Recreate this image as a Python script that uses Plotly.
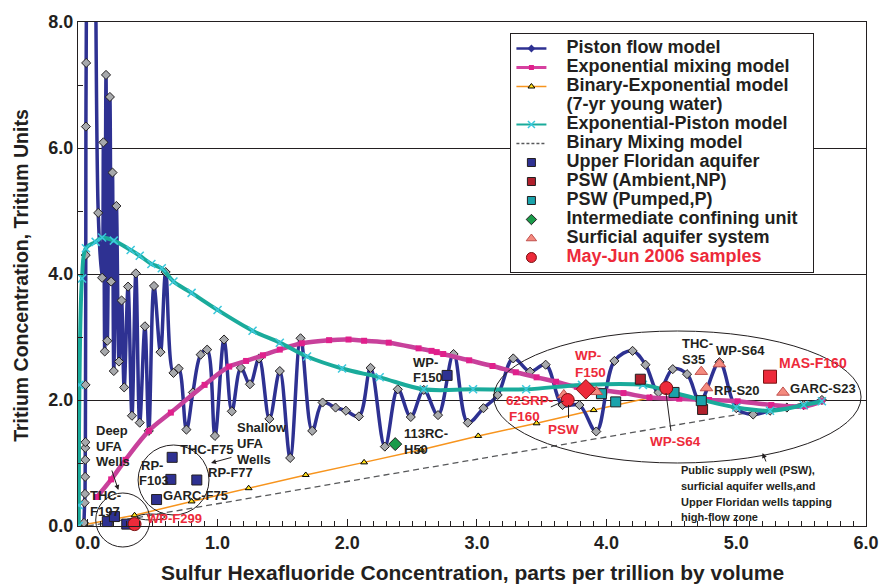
import plotly.graph_objects as go

# ---------------- data ----------------
# Piston flow model
PF_X = [-0.030, -0.025, -0.022, -0.021, -0.020, -0.020, -0.019, -0.018, -0.016, -0.015, -0.013,
        0.030, 0.080, 0.110, 0.120, 0.130, 0.140, 0.150, 0.170, 0.180, 0.190, 0.200, 0.220,
        0.240, 0.260, 0.280, 0.310, 0.340, 0.370, 0.400, 0.440, 0.470, 0.510, 0.560, 0.600,
        0.660, 0.700, 0.760, 0.810, 0.870, 0.920, 0.980, 1.050, 1.110, 1.180, 1.250, 1.320,
        1.400, 1.480, 1.560, 1.640, 1.730, 1.810, 1.910, 1.990, 2.090, 2.180, 2.290, 2.390,
        2.490, 2.590, 2.700, 2.820, 2.930, 3.050, 3.160, 3.280, 3.410, 3.530, 3.660, 3.790,
        3.920, 4.060, 4.200, 4.300, 4.400, 4.510, 4.620, 4.720, 4.870, 5.000, 5.130, 5.260,
        5.390, 5.520, 5.660]
PF_Y = [0.05, 0.37, 0.51, 0.78, 1.05, 1.24, 1.33, 2.24, 4.30, 6.34, 7.35,
        25.0, 4.97, 3.94, 6.09, 2.77, 7.16, 2.94, 6.81, 3.88, 5.61, 2.46, 5.08,
        2.61, 3.58, 2.20, 3.80, 1.75, 4.01, 1.64, 3.17, 1.51, 3.81, 2.76, 4.03,
        2.43, 2.50, 1.53, 2.12, 2.72, 2.80, 1.43, 2.96, 1.82, 2.51, 2.25, 2.66,
        1.70, 2.46, 1.08, 2.98, 1.51, 1.96, 1.88, 1.83, 1.74, 2.51, 1.26, 2.17,
        1.73, 2.16, 1.76, 2.73, 1.64, 1.87, 2.08, 2.66, 2.45, 2.56, 1.92, 1.92,
        1.50, 2.62, 2.78, 2.56, 2.12, 2.49, 2.41, 1.98, 2.60, 1.87, 1.77, 1.83,
        1.88, 1.92, 2.00]

# Exponential mixing model
EM_X = [0.07, 0.18, 0.29, 0.47, 0.64, 0.90, 1.09, 1.22, 1.35, 1.48, 1.65, 1.86, 2.01, 2.13,
        2.32, 2.55, 2.65, 2.69, 2.74, 2.94, 3.12, 3.30, 3.46, 3.61, 3.77, 4.13, 4.33, 4.56,
        4.79, 5.01, 5.27, 5.53, 5.66]
EM_Y = [0.46, 0.74, 1.05, 1.51, 1.80, 2.24, 2.53, 2.62, 2.71, 2.80, 2.90, 2.95, 2.96, 2.94,
        2.91, 2.82, 2.78, 2.76, 2.73, 2.63, 2.54, 2.44, 2.36, 2.29, 2.21, 2.11, 2.04, 2.02,
        2.00, 1.98, 1.92, 1.90, 1.98]

# Binary-Exponential model (7-yr young water)
BE_X = [-0.03, 0.36, 0.80, 1.24, 1.68, 2.13, 2.57, 3.01, 3.46, 3.90, 4.34]
BE_Y = [0.02, 0.17, 0.39, 0.60, 0.81, 1.01, 1.21, 1.43, 1.63, 1.84, 2.04]

# Exponential-Piston model
EP_X = [-0.070, -0.070, -0.065, -0.045, -0.015, 0.06, 0.11, 0.20, 0.33, 0.40, 0.49, 0.57,
        0.66, 0.80, 1.00, 1.27, 1.48, 1.69, 1.96, 2.25, 2.59, 2.97, 3.38, 3.81, 4.28, 4.51,
        4.74, 5.00, 5.26, 5.52, 5.66]
EP_Y = [0.00, 0.33, 2.24, 3.93, 4.41, 4.51, 4.58, 4.53, 4.38, 4.29, 4.16, 4.09,
        3.88, 3.70, 3.43, 3.10, 2.91, 2.69, 2.50, 2.36, 2.17, 2.17, 2.17, 2.24, 2.24, 2.12,
        2.00, 1.88, 1.83, 1.92, 1.98]

# Binary mixing model
BM_X = [0.0, 5.66]
BM_Y = [0.0, 2.0]

# Sample groups
UFA_X = [0.15, 0.205, 0.30, 0.53, 0.64, 0.65, 0.84, 2.77]
UFA_Y = [0.07, 0.15, 0.03, 0.42, 0.74, 1.09, 0.73, 2.39]
NP_X = [4.26, 4.74]
NP_Y = [2.33, 1.85]
P_X = [3.96, 4.07, 4.52, 4.73]
P_Y = [2.10, 1.97, 2.12, 1.99]
ICU_X = [2.37]
ICU_Y = [1.30]
SAS_X = [3.67, 3.92, 4.73, 4.77, 4.87, 5.36]
SAS_Y = [2.08, 2.13, 2.45, 2.19, 2.57, 2.12]
MJ_X = [0.36, 3.70, 4.46]
MJ_Y = [0.03, 2.00, 2.19]
MJ_SQ_X = [5.26]      # MAS-F160 (2006 sample, square)
MJ_SQ_Y = [2.37]
MJ_DI_X = [3.84]      # WP-F150 (2006 sample, diamond)
MJ_DI_Y = [2.17]

X_TICKS = [0, 1, 2, 3, 4, 5, 6]
Y_TICKS = [0, 2, 4, 6, 8]

LEGEND_NAMES = ["Piston flow model", "Exponential mixing model",
                "Binary-Exponential model", "(7-yr young water)", "Exponential-Piston model",
                "Binary Mixing model", "Upper Floridan aquifer", "PSW (Ambient,NP)",
                "PSW (Pumped,P)", "Intermediate confining unit", "Surficial aquifer system",
                "May-Jun 2006 samples"]

# ---------------- style ----------------
FONT = "Arial, 'Liberation Sans', Helvetica, sans-serif"
BLACK = "#231f20"
RED = "#ed2a3a"
NAVY = "#2e3192"
MAGENTA = "#c8419b"
TEAL = "#1aab9b"
ORANGE = "#f7941d"

W, H = 891, 584
ML, MR, MT, MB = 78, 13, 22, 58
PW, PH = W - ML - MR, H - MT - MB


def pxx(px):
    return (px - ML) / PW


def pxy(py):
    return 1 - (py - MT) / PH


fig = go.Figure()

fig.add_trace(go.Scatter(x=BM_X, y=BM_Y, mode="lines", showlegend=False, hoverinfo="skip",
                         line=dict(color="#58595b", width=1.3, dash="6px,4px")))
fig.add_trace(go.Scatter(x=BE_X, y=BE_Y, mode="lines+markers", showlegend=False, hoverinfo="skip",
                         line=dict(color=ORANGE, width=1.5),
                         marker=dict(symbol="triangle-up", size=6, color="#ffe01a",
                                     line=dict(color="black", width=1))))
fig.add_trace(go.Scatter(x=PF_X, y=PF_Y, mode="lines+markers", showlegend=False, hoverinfo="skip",
                         line=dict(color=NAVY, width=3.5, shape="spline", smoothing=1.0),
                         marker=dict(symbol="diamond", size=7, color="#a7a9ac",
                                     line=dict(color="#231f20", width=1))))
fig.add_trace(go.Scatter(x=EM_X, y=EM_Y, mode="lines+markers", showlegend=False, hoverinfo="skip",
                         line=dict(color=MAGENTA, width=4.5, shape="spline", smoothing=1.0),
                         marker=dict(symbol="square", size=6, color="#e0208c")))
fig.add_trace(go.Scatter(x=EP_X, y=EP_Y, mode="lines+markers", showlegend=False, hoverinfo="skip",
                         line=dict(color=TEAL, width=4, shape="spline", smoothing=1.0),
                         marker=dict(symbol="x-thin", size=8, color="#3cc8dc",
                                     line=dict(color="#3cc8dc", width=1.5))))


def pts(x, y, sym, size, color, lc="#231f20"):
    fig.add_trace(go.Scatter(x=x, y=y, mode="markers", showlegend=False, hoverinfo="skip",
                             cliponaxis=False,
                             marker=dict(symbol=sym, size=size, color=color,
                                         line=dict(color=lc, width=1))))


pts(UFA_X, UFA_Y, "square", 10, NAVY)
pts(NP_X, NP_Y, "square", 10, "#b0202c")
pts(P_X, P_Y, "square", 10, "#1aa3ab")
pts(ICU_X, ICU_Y, "diamond", 10, "#1a9b4a")
pts(SAS_X, SAS_Y, "triangle-up", 11, "#f48a7f", "#c0504d")
pts(MJ_SQ_X, MJ_SQ_Y, "square", 13, RED, "#7a1010")
pts(MJ_DI_X, MJ_DI_Y, "diamond", 15, RED, "#7a1010")
pts(MJ_X, MJ_Y, "circle", 13, RED, "#7a1010")

# ---- legend-only entries ----
leg_styles = [
    dict(mode="lines+markers", line=dict(color=NAVY, width=2.5),
         marker=dict(symbol="diamond", size=6, color=NAVY)),
    dict(mode="lines+markers", line=dict(color="#d6409f", width=3),
         marker=dict(symbol="square", size=5, color="#e0208c")),
    dict(mode="lines+markers", line=dict(color=ORANGE, width=1.3),
         marker=dict(symbol="triangle-up", size=6, color="#ffe01a", line=dict(color="black", width=1))),
    dict(mode="lines", line=dict(color="rgba(0,0,0,0)", width=0)),
    dict(mode="lines+markers", line=dict(color=TEAL, width=2),
         marker=dict(symbol="x-thin", size=7, line=dict(color="#3cc8dc", width=1.5))),
    dict(mode="lines", line=dict(color="#58595b", width=1.5, dash="3px,2px")),
    dict(mode="markers", marker=dict(symbol="square", size=8, color=NAVY, line=dict(color=BLACK, width=1))),
    dict(mode="markers", marker=dict(symbol="square", size=8, color="#b0202c", line=dict(color=BLACK, width=1))),
    dict(mode="markers", marker=dict(symbol="square", size=8, color="#1aa3ab", line=dict(color=BLACK, width=1))),
    dict(mode="markers", marker=dict(symbol="diamond", size=8, color="#1a9b4a", line=dict(color=BLACK, width=1))),
    dict(mode="markers", marker=dict(symbol="triangle-up", size=9, color="#f48a7f", line=dict(color="#c0504d", width=1))),
    dict(mode="markers", marker=dict(symbol="circle", size=10, color=RED, line=dict(color="#7a1010", width=1))),
]
for i, (nm, st) in enumerate(zip(LEGEND_NAMES, leg_styles)):
    color = RED if i == len(LEGEND_NAMES) - 1 else BLACK
    label = f'<span style="font-size:18px;color:{color}">\u00a0\u00a0\u00a0{nm}\u00a0\u00a0</span>'
    fig.add_trace(go.Scatter(x=[None], y=[None], name=label, showlegend=True, hoverinfo="skip", **st))

# ---- annotations ----
# (text, x_px, y_px, color, size, xanchor)
LABELS = [
    ("Deep", 94, 430, BLACK, 13, "left"), ("UFA", 94, 446, BLACK, 13, "left"),
    ("Wells", 94, 461, BLACK, 13, "left"),
    ("THC-", 88, 495, BLACK, 13, "left"), ("F197", 88, 511, BLACK, 13, "left"),
    ("RP-", 140, 465, BLACK, 13, "left"), ("F103", 138, 480, BLACK, 13, "left"),
    ("THC-F75", 208, 449, BLACK, 13, "center"), ("RP-F77", 233, 472, BLACK, 13, "center"),
    ("GARC-F75", 197, 495, BLACK, 13, "center"),
    ("Shallow", 237, 427, BLACK, 13, "left"), ("UFA", 237, 443, BLACK, 13, "left"),
    ("Wells", 237, 459, BLACK, 13, "left"),
    ("WP-F299", 146, 518, RED, 13, "left"),
    ("WP-", 416, 362, BLACK, 13, "left"), ("F150", 416, 377, BLACK, 13, "left"),
    ("113RC-", 407, 433, BLACK, 13, "left"), ("H50", 407, 449, BLACK, 13, "left"),
    ("62SRP-", 536, 400, RED, 13.5, "center"), ("F160", 514, 416, RED, 13.5, "left"),
    ("PSW", 571, 429, RED, 13.5, "center"),
    ("WP-", 581, 355, RED, 13.5, "left"), ("F150", 581, 372, RED, 13.5, "left"),
    ("WP-S64", 685, 441, RED, 13.5, "center"),
    ("THC-", 689, 343, BLACK, 13, "left"), ("S35", 689, 359, BLACK, 13, "left"),
    ("WP-S64", 751, 350, BLACK, 13, "center"), ("RP-S20", 747, 390, BLACK, 13, "center"),
    ("MAS-F160", 824, 363, RED, 14, "center"), ("GARC-S23", 834, 388, BLACK, 13, "center"),
    ("Public supply well (PSW),", 688, 470, BLACK, 11, "left"),
    ("surficial aquifer wells,and", 688, 486, BLACK, 11, "left"),
    ("Upper Floridan wells tapping", 688, 502, BLACK, 11, "left"),
    ("high-flow zone", 688, 517, BLACK, 11, "left"),
]
annotations = []
for t, x, y, c, s, xa in LABELS:
    annotations.append(dict(text=t, x=pxx(x), y=pxy(y), xref="paper", yref="paper",
                            xanchor=xa, yanchor="middle", showarrow=False,
                            font=dict(family=FONT, size=s, color=c, weight="bold")))

# arrows: (head_x, head_y, tail_x, tail_y)
ARROWS = [(119, 490, 112, 469), (213, 463, 235, 457), (773, 453, 777, 463)]
for hx, hy, tx, ty in ARROWS:
    annotations.append(dict(text="", x=pxx(hx), y=pxy(hy), xref="paper", yref="paper",
                            ax=tx - hx, ay=ty - hy, showarrow=True, arrowhead=2,
                            arrowsize=1, arrowwidth=1, arrowcolor=BLACK))

# axis titles
annotations.append(dict(text="Sulfur Hexafluoride Concentration, parts per trillion by volume",
                        x=pxx(478), y=pxy(572), xref="paper", yref="paper", showarrow=False,
                        xanchor="center", yanchor="middle",
                        font=dict(family=FONT, size=21, color=BLACK, weight="bold")))
annotations.append(dict(text="Tritium Concentration, Tritium Units",
                        x=pxx(20), y=pxy(275), xref="paper", yref="paper", showarrow=False,
                        textangle=-90, xanchor="center", yanchor="middle",
                        font=dict(family=FONT, size=19.5, color=BLACK, weight="bold")))

# ---- shapes: circles / ellipses and leader lines ----
shapes = []
for x0, y0, x1, y1 in [(96, 493, 151, 547), (139, 445, 211, 515), (500, 331, 873, 463),
                       (138, 514, 166, 520)]:
    shapes.append(dict(type="circle", xref="paper", yref="paper", x0=pxx(x0), x1=pxx(x1),
                       y0=pxy(y1), y1=pxy(y0), line=dict(color=BLACK, width=1)))
for x0, y0, x1, y1 in [(558, 407, 571, 401), (576, 418, 576, 405), (680, 431, 675, 393)]:
    shapes.append(dict(type="line", xref="paper", yref="paper", x0=pxx(x0), x1=pxx(x1),
                       y0=pxy(y0), y1=pxy(y1), line=dict(color=BLACK, width=1)))

fig.update_layout(
    width=W, height=H, margin=dict(l=ML, r=MR, t=MT, b=MB),
    paper_bgcolor="white", plot_bgcolor="white",
    font=dict(family=FONT, color=BLACK),
    annotations=annotations, shapes=shapes,
    legend=dict(x=pxx(517), y=pxy(33), xanchor="left", yanchor="top",
                bgcolor="white", bordercolor=BLACK, borderwidth=1,
                font=dict(family=FONT, size=12, color=BLACK, weight="bold"),
                tracegroupgap=0, itemwidth=30),
    xaxis=dict(range=[-0.076, 6.0], tickvals=X_TICKS, tickformat=".1f",
               ticks="inside", ticklen=7, tickcolor=BLACK, showgrid=False, zeroline=False,
               showline=True, linecolor=BLACK, linewidth=1, mirror=True,
               tickfont=dict(family=FONT, size=18, color=BLACK, weight="bold"),
               minor=dict(dtick=0.1, ticks="inside", ticklen=5, tickcolor=BLACK)),
    yaxis=dict(range=[0, 8], tickvals=Y_TICKS, tickformat=".1f",
               ticks="inside", ticklen=5, tickcolor=BLACK, showgrid=True, gridcolor=BLACK,
               gridwidth=1, zeroline=False,
               showline=True, linecolor=BLACK, linewidth=1, mirror=True,
               tickfont=dict(family=FONT, size=18, color=BLACK, weight="bold"),
               minor=dict(dtick=1, ticks="inside", ticklen=5, tickcolor=BLACK)),
)

fig.write_html("out.html")
